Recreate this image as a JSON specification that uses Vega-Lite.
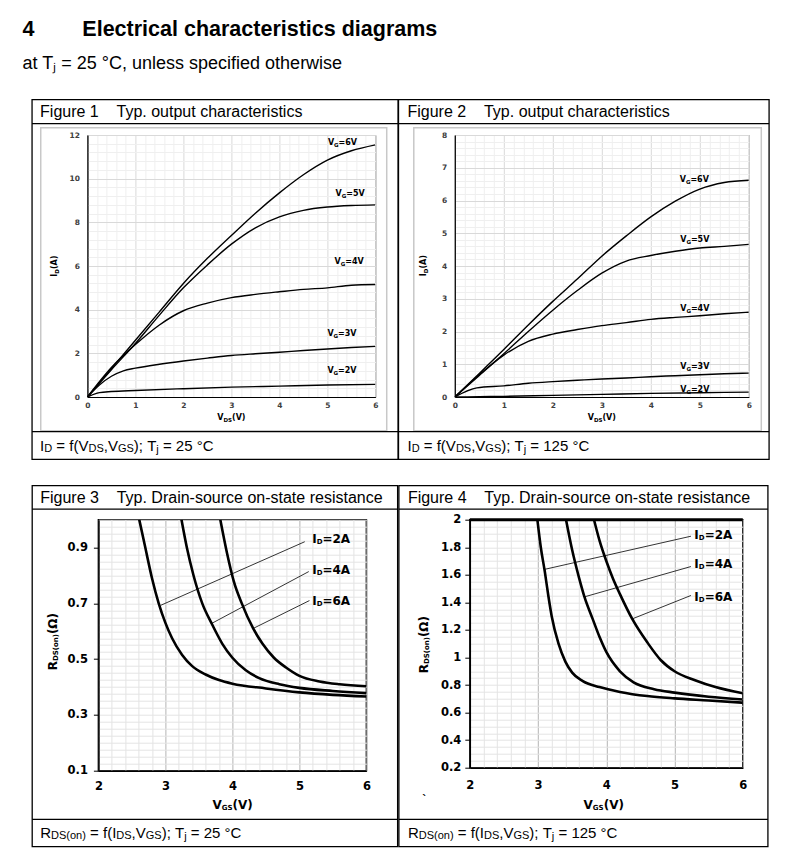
{
  "$schema": "https://vega.github.io/schema/vega-lite/v6.json",
  "background": "white",
  "padding": {"left": 22, "top": 19, "right": 5, "bottom": 5},
  "title": {
    "text": "4\u00a0\u00a0\u00a0\u00a0\u00a0\u00a0\u00a0\u00a0Electrical characteristics diagrams",
    "subtitle": "at T\u2c7c = 25 °C, unless specified otherwise",
    "anchor": "start", "dx": -8.2, "font": "Liberation Sans", "fontSize": 21.5, "fontWeight": "bold", "color": "black",
    "subtitleFont": "Liberation Sans", "subtitleFontSize": 18, "subtitleColor": "black", "subtitlePadding": 14, "offset": 26
  },
  "config": {"view": {"stroke": null}, "axis": {"grid": true, "labelOverlap": false, "labelFlush": false}},
  "datasets": {
    "f1": [
      {"x":0,"y":0,"c":"6V"},{"x":0.5,"y":1.3,"c":"6V"},{"x":1,"y":2.6,"c":"6V"},{"x":1.5,"y":3.9,"c":"6V"},{"x":2,"y":5.2,"c":"6V"},{"x":2.5,"y":6.35,"c":"6V"},{"x":3,"y":7.4,"c":"6V"},{"x":3.5,"y":8.42,"c":"6V"},{"x":4,"y":9.35,"c":"6V"},{"x":4.5,"y":10.18,"c":"6V"},{"x":5,"y":10.85,"c":"6V"},{"x":5.5,"y":11.28,"c":"6V"},{"x":6,"y":11.55,"c":"6V"},
      {"x":0,"y":0,"c":"5V"},{"x":0.5,"y":1.25,"c":"5V"},{"x":1,"y":2.45,"c":"5V"},{"x":1.5,"y":3.75,"c":"5V"},{"x":2,"y":5.0,"c":"5V"},{"x":2.5,"y":6.05,"c":"5V"},{"x":3,"y":7.0,"c":"5V"},{"x":3.5,"y":7.75,"c":"5V"},{"x":4,"y":8.25,"c":"5V"},{"x":4.5,"y":8.55,"c":"5V"},{"x":5,"y":8.7,"c":"5V"},{"x":5.5,"y":8.77,"c":"5V"},{"x":6,"y":8.8,"c":"5V"},
      {"x":0,"y":0,"c":"4V"},{"x":0.5,"y":1.35,"c":"4V"},{"x":1,"y":2.4,"c":"4V"},{"x":1.5,"y":3.3,"c":"4V"},{"x":2,"y":3.95,"c":"4V"},{"x":2.5,"y":4.3,"c":"4V"},{"x":3,"y":4.55,"c":"4V"},{"x":3.5,"y":4.7,"c":"4V"},{"x":4,"y":4.82,"c":"4V"},{"x":4.5,"y":4.93,"c":"4V"},{"x":5,"y":5.0,"c":"4V"},{"x":5.5,"y":5.12,"c":"4V"},{"x":6,"y":5.15,"c":"4V"},
      {"x":0,"y":0,"c":"3V"},{"x":0.25,"y":0.55,"c":"3V"},{"x":0.5,"y":0.95,"c":"3V"},{"x":0.75,"y":1.2,"c":"3V"},{"x":1,"y":1.32,"c":"3V"},{"x":1.5,"y":1.5,"c":"3V"},{"x":2,"y":1.65,"c":"3V"},{"x":2.5,"y":1.78,"c":"3V"},{"x":3,"y":1.9,"c":"3V"},{"x":3.5,"y":1.98,"c":"3V"},{"x":4,"y":2.05,"c":"3V"},{"x":4.5,"y":2.13,"c":"3V"},{"x":5,"y":2.2,"c":"3V"},{"x":5.5,"y":2.27,"c":"3V"},{"x":6,"y":2.32,"c":"3V"},
      {"x":0,"y":0,"c":"2V"},{"x":0.25,"y":0.2,"c":"2V"},{"x":0.5,"y":0.25,"c":"2V"},{"x":1,"y":0.3,"c":"2V"},{"x":2,"y":0.38,"c":"2V"},{"x":3,"y":0.45,"c":"2V"},{"x":4,"y":0.5,"c":"2V"},{"x":5,"y":0.55,"c":"2V"},{"x":6,"y":0.58,"c":"2V"}
    ],
    "f1lab": [{"x":5.01,"y":11.63,"t":"=6V"},{"x":5.17,"y":9.32,"t":"=5V"},{"x":5.15,"y":6.19,"t":"=4V"},{"x":5.0,"y":2.87,"t":"=3V"},{"x":5.0,"y":1.2,"t":"=2V"}],
    "f2": [
      {"x":0,"y":0,"c":"6V"},{"x":0.5,"y":0.72,"c":"6V"},{"x":1,"y":1.45,"c":"6V"},{"x":1.5,"y":2.2,"c":"6V"},{"x":2,"y":2.92,"c":"6V"},{"x":2.5,"y":3.6,"c":"6V"},{"x":3,"y":4.3,"c":"6V"},{"x":3.5,"y":4.92,"c":"6V"},{"x":4,"y":5.5,"c":"6V"},{"x":4.5,"y":5.98,"c":"6V"},{"x":5,"y":6.35,"c":"6V"},{"x":5.5,"y":6.55,"c":"6V"},{"x":6,"y":6.62,"c":"6V"},
      {"x":0,"y":0,"c":"5V"},{"x":0.5,"y":0.66,"c":"5V"},{"x":1,"y":1.32,"c":"5V"},{"x":1.5,"y":2.0,"c":"5V"},{"x":2,"y":2.65,"c":"5V"},{"x":2.5,"y":3.25,"c":"5V"},{"x":3,"y":3.78,"c":"5V"},{"x":3.5,"y":4.15,"c":"5V"},{"x":4,"y":4.32,"c":"5V"},{"x":4.5,"y":4.45,"c":"5V"},{"x":5,"y":4.55,"c":"5V"},{"x":5.5,"y":4.6,"c":"5V"},{"x":6,"y":4.66,"c":"5V"},
      {"x":0,"y":0,"c":"4V"},{"x":0.5,"y":0.68,"c":"4V"},{"x":1,"y":1.28,"c":"4V"},{"x":1.5,"y":1.7,"c":"4V"},{"x":2,"y":1.92,"c":"4V"},{"x":2.5,"y":2.06,"c":"4V"},{"x":3,"y":2.18,"c":"4V"},{"x":3.5,"y":2.27,"c":"4V"},{"x":4,"y":2.37,"c":"4V"},{"x":4.5,"y":2.43,"c":"4V"},{"x":5,"y":2.48,"c":"4V"},{"x":5.5,"y":2.54,"c":"4V"},{"x":6,"y":2.59,"c":"4V"},
      {"x":0,"y":0,"c":"3V"},{"x":0.45,"y":0.28,"c":"3V"},{"x":1,"y":0.34,"c":"3V"},{"x":1.5,"y":0.42,"c":"3V"},{"x":2,"y":0.47,"c":"3V"},{"x":2.5,"y":0.51,"c":"3V"},{"x":3,"y":0.55,"c":"3V"},{"x":3.5,"y":0.58,"c":"3V"},{"x":4,"y":0.62,"c":"3V"},{"x":4.5,"y":0.65,"c":"3V"},{"x":5,"y":0.68,"c":"3V"},{"x":5.5,"y":0.71,"c":"3V"},{"x":6,"y":0.73,"c":"3V"},
      {"x":0,"y":0,"c":"2V"},{"x":0.5,"y":0.01,"c":"2V"},{"x":1,"y":0.02,"c":"2V"},{"x":2,"y":0.05,"c":"2V"},{"x":3,"y":0.08,"c":"2V"},{"x":4,"y":0.11,"c":"2V"},{"x":5,"y":0.13,"c":"2V"},{"x":6,"y":0.15,"c":"2V"}
    ],
    "f2lab": [{"x":4.59,"y":6.63,"t":"=6V"},{"x":4.6,"y":4.8,"t":"=5V"},{"x":4.6,"y":2.69,"t":"=4V"},{"x":4.6,"y":0.91,"t":"=3V"},{"x":4.6,"y":0.22,"t":"=2V"}],
    "f3": [
      {"x":2.61,"y":1.0,"c":"2A"},{"x":2.7,"y":0.9,"c":"2A"},{"x":2.8,"y":0.79,"c":"2A"},{"x":2.9,"y":0.7,"c":"2A"},{"x":3.0,"y":0.63,"c":"2A"},{"x":3.1,"y":0.575,"c":"2A"},{"x":3.25,"y":0.515,"c":"2A"},{"x":3.4,"y":0.475,"c":"2A"},{"x":3.6,"y":0.445,"c":"2A"},{"x":3.8,"y":0.425,"c":"2A"},{"x":4.0,"y":0.412,"c":"2A"},{"x":4.5,"y":0.395,"c":"2A"},{"x":5.0,"y":0.381,"c":"2A"},{"x":5.5,"y":0.372,"c":"2A"},{"x":6.0,"y":0.366,"c":"2A"},
      {"x":3.24,"y":1.0,"c":"4A"},{"x":3.32,"y":0.9,"c":"4A"},{"x":3.42,"y":0.8,"c":"4A"},{"x":3.55,"y":0.7,"c":"4A"},{"x":3.69,"y":0.628,"c":"4A"},{"x":3.85,"y":0.555,"c":"4A"},{"x":4.0,"y":0.505,"c":"4A"},{"x":4.2,"y":0.46,"c":"4A"},{"x":4.4,"y":0.432,"c":"4A"},{"x":4.7,"y":0.41,"c":"4A"},{"x":5.0,"y":0.397,"c":"4A"},{"x":5.5,"y":0.386,"c":"4A"},{"x":6.0,"y":0.378,"c":"4A"},
      {"x":3.82,"y":1.0,"c":"6A"},{"x":3.92,"y":0.88,"c":"6A"},{"x":4.02,"y":0.78,"c":"6A"},{"x":4.14,"y":0.7,"c":"6A"},{"x":4.31,"y":0.61,"c":"6A"},{"x":4.45,"y":0.555,"c":"6A"},{"x":4.62,"y":0.505,"c":"6A"},{"x":4.8,"y":0.47,"c":"6A"},{"x":5.0,"y":0.44,"c":"6A"},{"x":5.3,"y":0.42,"c":"6A"},{"x":5.6,"y":0.41,"c":"6A"},{"x":6.0,"y":0.403,"c":"6A"}
    ],
    "f3ann": [
      {"x":2.93,"y":0.693,"x2":5.08,"y2":0.921,"lx":5.19,"ly":0.93,"t":"=2A"},
      {"x":3.69,"y":0.628,"x2":5.14,"y2":0.814,"lx":5.19,"ly":0.818,"t":"=4A"},
      {"x":4.31,"y":0.61,"x2":5.15,"y2":0.71,"lx":5.19,"ly":0.707,"t":"=6A"}
    ],
    "f4": [
      {"x":2.99,"y":2.0,"c":"2A"},{"x":3.04,"y":1.8,"c":"2A"},{"x":3.1,"y":1.62,"c":"2A"},{"x":3.15,"y":1.45,"c":"2A"},{"x":3.2,"y":1.3,"c":"2A"},{"x":3.3,"y":1.1,"c":"2A"},{"x":3.4,"y":0.97,"c":"2A"},{"x":3.5,"y":0.89,"c":"2A"},{"x":3.65,"y":0.83,"c":"2A"},{"x":3.9,"y":0.785,"c":"2A"},{"x":4.2,"y":0.75,"c":"2A"},{"x":4.6,"y":0.72,"c":"2A"},{"x":5.0,"y":0.703,"c":"2A"},{"x":5.5,"y":0.688,"c":"2A"},{"x":6.0,"y":0.672,"c":"2A"},
      {"x":3.41,"y":2.0,"c":"4A"},{"x":3.5,"y":1.78,"c":"4A"},{"x":3.6,"y":1.58,"c":"4A"},{"x":3.68,"y":1.44,"c":"4A"},{"x":3.8,"y":1.28,"c":"4A"},{"x":3.9,"y":1.15,"c":"4A"},{"x":4.0,"y":1.04,"c":"4A"},{"x":4.2,"y":0.9,"c":"4A"},{"x":4.4,"y":0.82,"c":"4A"},{"x":4.7,"y":0.77,"c":"4A"},{"x":5.0,"y":0.745,"c":"4A"},{"x":5.5,"y":0.715,"c":"4A"},{"x":6.0,"y":0.695,"c":"4A"},
      {"x":3.82,"y":2.0,"c":"6A"},{"x":3.9,"y":1.85,"c":"6A"},{"x":4.0,"y":1.7,"c":"6A"},{"x":4.1,"y":1.57,"c":"6A"},{"x":4.2,"y":1.46,"c":"6A"},{"x":4.38,"y":1.28,"c":"6A"},{"x":4.6,"y":1.11,"c":"6A"},{"x":4.8,"y":0.98,"c":"6A"},{"x":5.0,"y":0.9,"c":"6A"},{"x":5.3,"y":0.835,"c":"6A"},{"x":5.6,"y":0.785,"c":"6A"},{"x":6.0,"y":0.74,"c":"6A"}
    ],
    "f4ann": [
      {"x":3.1,"y":1.64,"x2":5.24,"y2":1.88,"lx":5.29,"ly":1.89,"t":"=2A"},
      {"x":3.68,"y":1.44,"x2":5.24,"y2":1.66,"lx":5.29,"ly":1.68,"t":"=4A"},
      {"x":4.38,"y":1.28,"x2":5.24,"y2":1.45,"lx":5.29,"ly":1.44,"t":"=6A"}
    ]
  },
  "spacing": 22.7,
  "vconcat": [
    {
      "spacing": -2.6,
      "hconcat": [
        {"width": 1, "height": 1, "data": {"values": [{}]}, "mark": {"type": "text", "text": ""}, "encoding": {}},
        {
          "width": 288, "height": 262,
          "view": {"stroke": "#7f7f7f"},
          "resolve": {"axis": {"x": "independent", "y": "independent"}},
          "layer": [
            {"data": {"name": "f1"}, "mark": {"type": "line", "color": "black", "strokeWidth": 1.4, "interpolate": "monotone", "clip": true},
             "encoding": {
               "x": {"field": "x", "type": "quantitative", "scale": {"domain": [0, 6], "nice": false, "zero": false},
                     "axis": {"title": null, "grid": true, "labelOverlap": false, "labelFlush": false, "values": [0,0.2,0.4,0.6,0.8,1,1.2,1.4,1.6,1.8,2,2.2,2.4,2.6,2.8,3,3.2,3.4,3.6,3.8,4,4.2,4.4,4.6,4.8,5,5.2,5.4,5.6,5.8,6],
                              "gridColor": {"condition": {"test": "abs(datum.value-round(datum.value))<0.01", "value": "#d9d9d9"}, "value": "#efefef"},
                              "labelExpr": "abs(datum.value-round(datum.value))<0.01 ? format(datum.value,'~g') : ''",
                              "ticks": false, "domainColor": "black", "domainWidth": 1.2, "labelFont": "DejaVu Sans", "labelFontWeight": "bold", "labelFontSize": 7.5, "labelColor": "#404040", "labelPadding": 4}},
               "y": {"field": "y", "type": "quantitative", "scale": {"domain": [0, 12], "nice": false, "zero": false},
                     "axis": {"title": null, "grid": true, "labelOverlap": false, "labelFlush": false, "values": [0,0.4,0.8,1.2,1.6,2,2.4,2.8,3.2,3.6,4,4.4,4.8,5.2,5.6,6,6.4,6.8,7.2,7.6,8,8.4,8.8,9.2,9.6,10,10.4,10.8,11.2,11.6,12],
                              "gridColor": {"condition": {"test": "abs(datum.value/2-round(datum.value/2))<0.01", "value": "#d9d9d9"}, "value": "#efefef"},
                              "labelExpr": "abs(datum.value/2-round(datum.value/2))<0.01 ? format(datum.value,'~g') : ''",
                              "ticks": false, "domainColor": "black", "domainWidth": 1.2, "labelFont": "DejaVu Sans", "labelFontWeight": "bold", "labelFontSize": 7.5, "labelColor": "#404040", "labelPadding": 8}},
               "detail": {"field": "c"}}},
            {"data": {"values": [{}]}, "mark": {"type": "rect", "fill": null, "stroke": "#c8c8c8", "strokeWidth": 1.5},
             "encoding": {"x": {"datum": -0.972, "type": "quantitative", "axis": null}, "x2": {"datum": 6.236}, "y": {"datum": 12.334, "type": "quantitative", "axis": null}, "y2": {"datum": -1.543}}},
            {"data": {"values": [{}]}, "mark": {"type": "rect", "fill": null, "stroke": "black", "strokeWidth": 1.3},
             "encoding": {"x": {"datum": -1.153, "type": "quantitative", "axis": null}, "x2": {"datum": 6.473}, "y": {"datum": 13.617, "type": "quantitative", "axis": null}, "y2": {"datum": -2.858}}},
            {"data": {"values": [{}]}, "mark": {"type": "rule", "color": "black", "strokeWidth": 1.3},
             "encoding": {"x": {"datum": -1.153, "type": "quantitative", "axis": null}, "x2": {"datum": 6.473}, "y": {"datum": 12.518, "type": "quantitative", "axis": null}}},
            {"data": {"values": [{}]}, "mark": {"type": "rule", "color": "black", "strokeWidth": 1.3},
             "encoding": {"x": {"datum": -1.153, "type": "quantitative", "axis": null}, "x2": {"datum": 6.473}, "y": {"datum": -1.589, "type": "quantitative", "axis": null}}},
            {"data": {"name": "f1lab"}, "mark": {"type": "text", "text": "V", "align": "left", "baseline": "middle", "font": "DejaVu Sans", "fontWeight": "bold", "fontSize": 8},
             "encoding": {"x": {"field": "x", "type": "quantitative", "axis": null}, "y": {"field": "y", "type": "quantitative", "axis": null}}},
            {"data": {"name": "f1lab"}, "mark": {"type": "text", "text": "G", "align": "left", "baseline": "middle", "font": "DejaVu Sans", "fontWeight": "bold", "fontSize": 5.5, "dx": 6.2, "dy": 2},
             "encoding": {"x": {"field": "x", "type": "quantitative", "axis": null}, "y": {"field": "y", "type": "quantitative", "axis": null}}},
            {"data": {"name": "f1lab"}, "mark": {"type": "text", "align": "left", "baseline": "middle", "font": "DejaVu Sans", "fontWeight": "bold", "fontSize": 8, "dx": 10.7},
             "encoding": {"x": {"field": "x", "type": "quantitative", "axis": null}, "y": {"field": "y", "type": "quantitative", "axis": null}, "text": {"field": "t"}}},
            {"data": {"values": [{}]}, "mark": {"type": "text", "text": "V", "align": "left", "baseline": "middle", "font": "DejaVu Sans", "fontWeight": "bold", "fontSize": 8, "dx": -14.1},
             "encoding": {"x": {"datum": 3.0, "type": "quantitative", "axis": null}, "y": {"datum": -0.948, "type": "quantitative", "axis": null}}},
            {"data": {"values": [{}]}, "mark": {"type": "text", "text": "DS", "align": "left", "baseline": "middle", "font": "DejaVu Sans", "fontWeight": "bold", "fontSize": 5.5, "dx": -7.9, "dy": 2},
             "encoding": {"x": {"datum": 3.0, "type": "quantitative", "axis": null}, "y": {"datum": -0.948, "type": "quantitative", "axis": null}}},
            {"data": {"values": [{}]}, "mark": {"type": "text", "text": "(V)", "align": "left", "baseline": "middle", "font": "DejaVu Sans", "fontWeight": "bold", "fontSize": 8, "dx": 0.6},
             "encoding": {"x": {"datum": 3.0, "type": "quantitative", "axis": null}, "y": {"datum": -0.948, "type": "quantitative", "axis": null}}},
            {"data": {"values": [{}]}, "mark": {"type": "text", "text": "I", "align": "left", "baseline": "middle", "angle": 270, "font": "DejaVu Sans", "fontWeight": "bold", "fontSize": 8, "dx": -10.5},
             "encoding": {"x": {"datum": -0.674, "type": "quantitative", "axis": null}, "y": {"datum": 5.99, "type": "quantitative", "axis": null}}},
            {"data": {"values": [{}]}, "mark": {"type": "text", "text": "D", "align": "left", "baseline": "middle", "angle": 270, "font": "DejaVu Sans", "fontWeight": "bold", "fontSize": 5.5, "dx": -7.5, "dy": 2},
             "encoding": {"x": {"datum": -0.674, "type": "quantitative", "axis": null}, "y": {"datum": 5.99, "type": "quantitative", "axis": null}}},
            {"data": {"values": [{}]}, "mark": {"type": "text", "text": "(A)", "align": "left", "baseline": "middle", "angle": 270, "font": "DejaVu Sans", "fontWeight": "bold", "fontSize": 8, "dx": -2.9},
             "encoding": {"x": {"datum": -0.674, "type": "quantitative", "axis": null}, "y": {"datum": 5.99, "type": "quantitative", "axis": null}}},
            {"data": {"values": [{}]}, "mark": {"type": "text", "text": "Figure 1\u00a0\u00a0\u00a0\u00a0Typ. output characteristics", "align": "left", "baseline": "middle", "font": "Liberation Sans", "fontSize": 16, "dx": 8},
             "encoding": {"x": {"datum": -1.153, "type": "quantitative", "axis": null}, "y": {"datum": 13.067, "type": "quantitative", "axis": null}}},
            {"data": {"values": [{}]}, "mark": {"type": "text", "text": "I", "align": "left", "baseline": "middle", "font": "Liberation Sans", "fontSize": 15, "dx": 8},
             "encoding": {"x": {"datum": -1.153, "type": "quantitative", "axis": null}, "y": {"datum": -2.231, "type": "quantitative", "axis": null}}},
            {"data": {"values": [{}]}, "mark": {"type": "text", "text": "D", "align": "left", "baseline": "middle", "font": "Liberation Sans", "fontSize": 11, "dx": 12.17, "dy": 3},
             "encoding": {"x": {"datum": -1.153, "type": "quantitative", "axis": null}, "y": {"datum": -2.231, "type": "quantitative", "axis": null}}},
            {"data": {"values": [{}]}, "mark": {"type": "text", "text": "=\u00a0f(V", "align": "left", "baseline": "middle", "font": "Liberation Sans", "fontSize": 15, "dx": 24.28},
             "encoding": {"x": {"datum": -1.153, "type": "quantitative", "axis": null}, "y": {"datum": -2.231, "type": "quantitative", "axis": null}}},
            {"data": {"values": [{}]}, "mark": {"type": "text", "text": "DS", "align": "left", "baseline": "middle", "font": "Liberation Sans", "fontSize": 11, "dx": 56.38, "dy": 3},
             "encoding": {"x": {"datum": -1.153, "type": "quantitative", "axis": null}, "y": {"datum": -2.231, "type": "quantitative", "axis": null}}},
            {"data": {"values": [{}]}, "mark": {"type": "text", "text": ",V", "align": "left", "baseline": "middle", "font": "Liberation Sans", "fontSize": 15, "dx": 71.66},
             "encoding": {"x": {"datum": -1.153, "type": "quantitative", "axis": null}, "y": {"datum": -2.231, "type": "quantitative", "axis": null}}},
            {"data": {"values": [{}]}, "mark": {"type": "text", "text": "GS", "align": "left", "baseline": "middle", "font": "Liberation Sans", "fontSize": 11, "dx": 85.84, "dy": 3},
             "encoding": {"x": {"datum": -1.153, "type": "quantitative", "axis": null}, "y": {"datum": -2.231, "type": "quantitative", "axis": null}}},
            {"data": {"values": [{}]}, "mark": {"type": "text", "text": ");\u00a0T", "align": "left", "baseline": "middle", "font": "Liberation Sans", "fontSize": 15, "dx": 101.74},
             "encoding": {"x": {"datum": -1.153, "type": "quantitative", "axis": null}, "y": {"datum": -2.231, "type": "quantitative", "axis": null}}},
            {"data": {"values": [{}]}, "mark": {"type": "text", "text": "j", "align": "left", "baseline": "middle", "font": "Liberation Sans", "fontSize": 11, "dx": 124.24, "dy": 4},
             "encoding": {"x": {"datum": -1.153, "type": "quantitative", "axis": null}, "y": {"datum": -2.231, "type": "quantitative", "axis": null}}},
            {"data": {"values": [{}]}, "mark": {"type": "text", "text": "=\u00a025 °C", "align": "left", "baseline": "middle", "font": "Liberation Sans", "fontSize": 15, "dx": 130.85},
             "encoding": {"x": {"datum": -1.153, "type": "quantitative", "axis": null}, "y": {"datum": -2.231, "type": "quantitative", "axis": null}}}
          ]
        },
        {
          "width": 294, "height": 262,
          "view": {"stroke": "#7f7f7f"},
          "resolve": {"axis": {"x": "independent", "y": "independent"}},
          "layer": [
            {"data": {"name": "f2"}, "mark": {"type": "line", "color": "black", "strokeWidth": 1.4, "interpolate": "monotone", "clip": true},
             "encoding": {
               "x": {"field": "x", "type": "quantitative", "scale": {"domain": [0, 6], "nice": false, "zero": false},
                     "axis": {"title": null, "grid": true, "labelOverlap": false, "labelFlush": false, "values": [0,0.2,0.4,0.6,0.8,1,1.2,1.4,1.6,1.8,2,2.2,2.4,2.6,2.8,3,3.2,3.4,3.6,3.8,4,4.2,4.4,4.6,4.8,5,5.2,5.4,5.6,5.8,6],
                              "gridColor": {"condition": {"test": "abs(datum.value-round(datum.value))<0.01", "value": "#d9d9d9"}, "value": "#efefef"},
                              "labelExpr": "abs(datum.value-round(datum.value))<0.01 ? format(datum.value,'~g') : ''",
                              "ticks": false, "domainColor": "black", "domainWidth": 1.2, "labelFont": "DejaVu Sans", "labelFontWeight": "bold", "labelFontSize": 7.5, "labelColor": "#404040", "labelPadding": 4}},
               "y": {"field": "y", "type": "quantitative", "scale": {"domain": [0, 8], "nice": false, "zero": false},
                     "axis": {"title": null, "grid": true, "labelOverlap": false, "labelFlush": false, "values": [0,0.2,0.4,0.6,0.8,1,1.2,1.4,1.6,1.8,2,2.2,2.4,2.6,2.8,3,3.2,3.4,3.6,3.8,4,4.2,4.4,4.6,4.8,5,5.2,5.4,5.6,5.8,6,6.2,6.4,6.6,6.8,7,7.2,7.4,7.6,7.8,8],
                              "gridColor": {"condition": {"test": "abs(datum.value-round(datum.value))<0.01", "value": "#d9d9d9"}, "value": "#efefef"},
                              "labelExpr": "abs(datum.value-round(datum.value))<0.01 ? format(datum.value,'~g') : ''",
                              "ticks": false, "domainColor": "black", "domainWidth": 1.2, "labelFont": "DejaVu Sans", "labelFontWeight": "bold", "labelFontSize": 7.5, "labelColor": "#404040", "labelPadding": 8}},
               "detail": {"field": "c"}}},
            {"data": {"values": [{}]}, "mark": {"type": "rect", "fill": null, "stroke": "#c8c8c8", "strokeWidth": 1.5},
             "encoding": {"x": {"datum": -0.837, "type": "quantitative", "axis": null}, "x2": {"datum": 6.255}, "y": {"datum": 8.223, "type": "quantitative", "axis": null}, "y2": {"datum": -1.029}}},
            {"data": {"values": [{}]}, "mark": {"type": "rect", "fill": null, "stroke": "black", "strokeWidth": 1.3},
             "encoding": {"x": {"datum": -1.149, "type": "quantitative", "axis": null}, "x2": {"datum": 6.414}, "y": {"datum": 9.078, "type": "quantitative", "axis": null}, "y2": {"datum": -1.905}}},
            {"data": {"values": [{}]}, "mark": {"type": "rule", "color": "black", "strokeWidth": 1.3},
             "encoding": {"x": {"datum": -1.149, "type": "quantitative", "axis": null}, "x2": {"datum": 6.414}, "y": {"datum": 8.345, "type": "quantitative", "axis": null}}},
            {"data": {"values": [{}]}, "mark": {"type": "rule", "color": "black", "strokeWidth": 1.3},
             "encoding": {"x": {"datum": -1.149, "type": "quantitative", "axis": null}, "x2": {"datum": 6.414}, "y": {"datum": -1.06, "type": "quantitative", "axis": null}}},
            {"data": {"name": "f2lab"}, "mark": {"type": "text", "text": "V", "align": "left", "baseline": "middle", "font": "DejaVu Sans", "fontWeight": "bold", "fontSize": 8},
             "encoding": {"x": {"field": "x", "type": "quantitative", "axis": null}, "y": {"field": "y", "type": "quantitative", "axis": null}}},
            {"data": {"name": "f2lab"}, "mark": {"type": "text", "text": "G", "align": "left", "baseline": "middle", "font": "DejaVu Sans", "fontWeight": "bold", "fontSize": 5.5, "dx": 6.2, "dy": 2},
             "encoding": {"x": {"field": "x", "type": "quantitative", "axis": null}, "y": {"field": "y", "type": "quantitative", "axis": null}}},
            {"data": {"name": "f2lab"}, "mark": {"type": "text", "align": "left", "baseline": "middle", "font": "DejaVu Sans", "fontWeight": "bold", "fontSize": 8, "dx": 10.7},
             "encoding": {"x": {"field": "x", "type": "quantitative", "axis": null}, "y": {"field": "y", "type": "quantitative", "axis": null}, "text": {"field": "t"}}},
            {"data": {"values": [{}]}, "mark": {"type": "text", "text": "V", "align": "left", "baseline": "middle", "font": "DejaVu Sans", "fontWeight": "bold", "fontSize": 8, "dx": -14.1},
             "encoding": {"x": {"datum": 3.0, "type": "quantitative", "axis": null}, "y": {"datum": -0.632, "type": "quantitative", "axis": null}}},
            {"data": {"values": [{}]}, "mark": {"type": "text", "text": "DS", "align": "left", "baseline": "middle", "font": "DejaVu Sans", "fontWeight": "bold", "fontSize": 5.5, "dx": -7.9, "dy": 2},
             "encoding": {"x": {"datum": 3.0, "type": "quantitative", "axis": null}, "y": {"datum": -0.632, "type": "quantitative", "axis": null}}},
            {"data": {"values": [{}]}, "mark": {"type": "text", "text": "(V)", "align": "left", "baseline": "middle", "font": "DejaVu Sans", "fontWeight": "bold", "fontSize": 8, "dx": 0.6},
             "encoding": {"x": {"datum": 3.0, "type": "quantitative", "axis": null}, "y": {"datum": -0.632, "type": "quantitative", "axis": null}}},
            {"data": {"values": [{}]}, "mark": {"type": "text", "text": "I", "align": "left", "baseline": "middle", "angle": 270, "font": "DejaVu Sans", "fontWeight": "bold", "fontSize": 8, "dx": -10.5},
             "encoding": {"x": {"datum": -0.633, "type": "quantitative", "axis": null}, "y": {"datum": 4.01, "type": "quantitative", "axis": null}}},
            {"data": {"values": [{}]}, "mark": {"type": "text", "text": "D", "align": "left", "baseline": "middle", "angle": 270, "font": "DejaVu Sans", "fontWeight": "bold", "fontSize": 5.5, "dx": -7.5, "dy": 2},
             "encoding": {"x": {"datum": -0.633, "type": "quantitative", "axis": null}, "y": {"datum": 4.01, "type": "quantitative", "axis": null}}},
            {"data": {"values": [{}]}, "mark": {"type": "text", "text": "(A)", "align": "left", "baseline": "middle", "angle": 270, "font": "DejaVu Sans", "fontWeight": "bold", "fontSize": 8, "dx": -2.9},
             "encoding": {"x": {"datum": -0.633, "type": "quantitative", "axis": null}, "y": {"datum": 4.01, "type": "quantitative", "axis": null}}},
            {"data": {"values": [{}]}, "mark": {"type": "text", "text": "Figure 2\u00a0\u00a0\u00a0\u00a0Typ. output characteristics", "align": "left", "baseline": "middle", "font": "Liberation Sans", "fontSize": 16, "dx": 9},
             "encoding": {"x": {"datum": -1.149, "type": "quantitative", "axis": null}, "y": {"datum": 8.711, "type": "quantitative", "axis": null}}},
            {"data": {"values": [{}]}, "mark": {"type": "text", "text": "I", "align": "left", "baseline": "middle", "font": "Liberation Sans", "fontSize": 15, "dx": 9},
             "encoding": {"x": {"datum": -1.149, "type": "quantitative", "axis": null}, "y": {"datum": -1.487, "type": "quantitative", "axis": null}}},
            {"data": {"values": [{}]}, "mark": {"type": "text", "text": "D", "align": "left", "baseline": "middle", "font": "Liberation Sans", "fontSize": 11, "dx": 13.17, "dy": 3},
             "encoding": {"x": {"datum": -1.149, "type": "quantitative", "axis": null}, "y": {"datum": -1.487, "type": "quantitative", "axis": null}}},
            {"data": {"values": [{}]}, "mark": {"type": "text", "text": "=\u00a0f(V", "align": "left", "baseline": "middle", "font": "Liberation Sans", "fontSize": 15, "dx": 25.28},
             "encoding": {"x": {"datum": -1.149, "type": "quantitative", "axis": null}, "y": {"datum": -1.487, "type": "quantitative", "axis": null}}},
            {"data": {"values": [{}]}, "mark": {"type": "text", "text": "DS", "align": "left", "baseline": "middle", "font": "Liberation Sans", "fontSize": 11, "dx": 57.38, "dy": 3},
             "encoding": {"x": {"datum": -1.149, "type": "quantitative", "axis": null}, "y": {"datum": -1.487, "type": "quantitative", "axis": null}}},
            {"data": {"values": [{}]}, "mark": {"type": "text", "text": ",V", "align": "left", "baseline": "middle", "font": "Liberation Sans", "fontSize": 15, "dx": 72.66},
             "encoding": {"x": {"datum": -1.149, "type": "quantitative", "axis": null}, "y": {"datum": -1.487, "type": "quantitative", "axis": null}}},
            {"data": {"values": [{}]}, "mark": {"type": "text", "text": "GS", "align": "left", "baseline": "middle", "font": "Liberation Sans", "fontSize": 11, "dx": 86.84, "dy": 3},
             "encoding": {"x": {"datum": -1.149, "type": "quantitative", "axis": null}, "y": {"datum": -1.487, "type": "quantitative", "axis": null}}},
            {"data": {"values": [{}]}, "mark": {"type": "text", "text": ");\u00a0T", "align": "left", "baseline": "middle", "font": "Liberation Sans", "fontSize": 15, "dx": 102.74},
             "encoding": {"x": {"datum": -1.149, "type": "quantitative", "axis": null}, "y": {"datum": -1.487, "type": "quantitative", "axis": null}}},
            {"data": {"values": [{}]}, "mark": {"type": "text", "text": "j", "align": "left", "baseline": "middle", "font": "Liberation Sans", "fontSize": 11, "dx": 125.24, "dy": 4},
             "encoding": {"x": {"datum": -1.149, "type": "quantitative", "axis": null}, "y": {"datum": -1.487, "type": "quantitative", "axis": null}}},
            {"data": {"values": [{}]}, "mark": {"type": "text", "text": "=\u00a0125 °C", "align": "left", "baseline": "middle", "font": "Liberation Sans", "fontSize": 15, "dx": 131.85},
             "encoding": {"x": {"datum": -1.149, "type": "quantitative", "axis": null}, "y": {"datum": -1.487, "type": "quantitative", "axis": null}}}
          ]
        }
      ]
    },
    {
      "spacing": -2.6,
      "hconcat": [
        {"width": 1, "height": 1, "data": {"values": [{}]}, "mark": {"type": "text", "text": ""}, "encoding": {}},
        {
          "width": 268, "height": 251,
          "view": {"stroke": "black", "strokeWidth": 1.5},
          "resolve": {"axis": {"x": "independent", "y": "independent"}},
          "layer": [
            {"data": {"name": "f3"}, "mark": {"type": "line", "color": "black", "strokeWidth": 2.6, "interpolate": "monotone", "clip": true},
             "encoding": {
               "x": {"field": "x", "type": "quantitative", "scale": {"domain": [2, 6], "nice": false, "zero": false},
                     "axis": {"title": null, "grid": true, "labelOverlap": false, "labelFlush": false, "values": [2,2.2,2.4,2.6,2.8,3,3.2,3.4,3.6,3.8,4,4.2,4.4,4.6,4.8,5,5.2,5.4,5.6,5.8,6],
                              "gridColor": {"condition": {"test": "abs(datum.value-round(datum.value))<0.01", "value": "#b4b4b4"}, "value": "#e4e4e4"},
                              "labelExpr": "abs(datum.value-round(datum.value))<0.01 ? format(datum.value,'~g') : ''",
                              "ticks": false, "domainColor": "black", "domainWidth": 1.5, "labelFont": "DejaVu Sans", "labelFontWeight": "bold", "labelFontSize": 11.5, "labelColor": "black", "labelPadding": 10}},
               "y": {"field": "y", "type": "quantitative", "scale": {"domain": [0.1, 1.0], "nice": false, "zero": false},
                     "axis": {"title": null, "grid": true, "labelOverlap": false, "labelFlush": false, "values": [0.1,0.125,0.15,0.175,0.2,0.225,0.25,0.275,0.3,0.325,0.35,0.375,0.4,0.425,0.45,0.475,0.5,0.525,0.55,0.575,0.6,0.625,0.65,0.675,0.7,0.725,0.75,0.775,0.8,0.825,0.85,0.875,0.9,0.925,0.95,0.975,1.0],
                              "gridColor": "#e4e4e4",
                              "labelExpr": "abs((datum.value-0.1)/0.2-round((datum.value-0.1)/0.2))<0.01 ? format(datum.value,'~g') : ''",
                              "tickOpacity": {"condition": {"test": "abs((datum.value-0.1)/0.2-round((datum.value-0.1)/0.2))<0.01", "value": 1}, "value": 0},
                              "tickSize": 5, "tickColor": "black", "domainColor": "black", "domainWidth": 1.5, "labelFont": "DejaVu Sans", "labelFontWeight": "bold", "labelFontSize": 11.5, "labelColor": "black", "labelPadding": 6}},
               "detail": {"field": "c"}}},
            {"data": {"values": [{}]}, "mark": {"type": "rect", "fill": null, "stroke": "black", "strokeWidth": 1.3},
             "encoding": {"x": {"datum": 1.012, "type": "quantitative", "axis": null}, "x2": {"datum": 6.466}, "y": {"datum": 1.1219, "type": "quantitative", "axis": null}, "y2": {"datum": -0.1725}}},
            {"data": {"values": [{}]}, "mark": {"type": "rule", "color": "black", "strokeWidth": 1.3},
             "encoding": {"x": {"datum": 1.012, "type": "quantitative", "axis": null}, "x2": {"datum": 6.466}, "y": {"datum": 1.0376, "type": "quantitative", "axis": null}}},
            {"data": {"values": [{}]}, "mark": {"type": "rule", "color": "black", "strokeWidth": 1.3},
             "encoding": {"x": {"datum": 1.012, "type": "quantitative", "axis": null}, "x2": {"datum": 6.466}, "y": {"datum": -0.0746, "type": "quantitative", "axis": null}}},
            {"data": {"name": "f3ann"}, "mark": {"type": "rule", "color": "black", "strokeWidth": 0.8},
             "encoding": {"x": {"field": "x", "type": "quantitative", "axis": null}, "y": {"field": "y", "type": "quantitative", "axis": null}, "x2": {"field": "x2"}, "y2": {"field": "y2"}}},
            {"data": {"name": "f3ann"}, "mark": {"type": "text", "text": "I", "align": "left", "baseline": "middle", "font": "DejaVu Sans", "fontWeight": "bold", "fontSize": 12},
             "encoding": {"x": {"field": "lx", "type": "quantitative", "axis": null}, "y": {"field": "ly", "type": "quantitative", "axis": null}}},
            {"data": {"name": "f3ann"}, "mark": {"type": "text", "text": "D", "align": "left", "baseline": "middle", "font": "DejaVu Sans", "fontWeight": "bold", "fontSize": 7, "dx": 4.5, "dy": 3},
             "encoding": {"x": {"field": "lx", "type": "quantitative", "axis": null}, "y": {"field": "ly", "type": "quantitative", "axis": null}}},
            {"data": {"name": "f3ann"}, "mark": {"type": "text", "align": "left", "baseline": "middle", "font": "DejaVu Sans", "fontWeight": "bold", "fontSize": 12, "dx": 10.3},
             "encoding": {"x": {"field": "lx", "type": "quantitative", "axis": null}, "y": {"field": "ly", "type": "quantitative", "axis": null}, "text": {"field": "t"}}},
            {"data": {"values": [{}]}, "mark": {"type": "text", "text": "V", "align": "left", "baseline": "middle", "font": "DejaVu Sans", "fontWeight": "bold", "fontSize": 12, "dx": -20},
             "encoding": {"x": {"datum": 4.0, "type": "quantitative", "axis": null}, "y": {"datum": -0.0219, "type": "quantitative", "axis": null}}},
            {"data": {"values": [{}]}, "mark": {"type": "text", "text": "GS", "align": "left", "baseline": "middle", "font": "DejaVu Sans", "fontWeight": "bold", "fontSize": 7, "dx": -10.7, "dy": 3},
             "encoding": {"x": {"datum": 4.0, "type": "quantitative", "axis": null}, "y": {"datum": -0.0219, "type": "quantitative", "axis": null}}},
            {"data": {"values": [{}]}, "mark": {"type": "text", "text": "(V)", "align": "left", "baseline": "middle", "font": "DejaVu Sans", "fontWeight": "bold", "fontSize": 12, "dx": 0.1},
             "encoding": {"x": {"datum": 4.0, "type": "quantitative", "axis": null}, "y": {"datum": -0.0219, "type": "quantitative", "axis": null}}},
            {"data": {"values": [{}]}, "mark": {"type": "text", "text": "R", "align": "left", "baseline": "middle", "angle": 270, "font": "DejaVu Sans", "fontWeight": "bold", "fontSize": 12, "dx": -28.6},
             "encoding": {"x": {"datum": 1.325, "type": "quantitative", "axis": null}, "y": {"datum": 0.5625, "type": "quantitative", "axis": null}}},
            {"data": {"values": [{}]}, "mark": {"type": "text", "text": "DS(on)", "align": "left", "baseline": "middle", "angle": 270, "font": "DejaVu Sans", "fontWeight": "bold", "fontSize": 7, "dx": -19.4, "dy": 3},
             "encoding": {"x": {"datum": 1.325, "type": "quantitative", "axis": null}, "y": {"datum": 0.5625, "type": "quantitative", "axis": null}}},
            {"data": {"values": [{}]}, "mark": {"type": "text", "text": "(Ω)", "align": "left", "baseline": "middle", "angle": 270, "font": "DejaVu Sans", "fontWeight": "bold", "fontSize": 12, "dx": 7.6},
             "encoding": {"x": {"datum": 1.325, "type": "quantitative", "axis": null}, "y": {"datum": 0.5625, "type": "quantitative", "axis": null}}},
            {"data": {"values": [{}]}, "mark": {"type": "text", "text": "Figure 3\u00a0\u00a0\u00a0\u00a0Typ. Drain-source on-state resistance", "align": "left", "baseline": "middle", "font": "Liberation Sans", "fontSize": 16, "dx": 8},
             "encoding": {"x": {"datum": 1.012, "type": "quantitative", "axis": null}, "y": {"datum": 1.0789, "type": "quantitative", "axis": null}}},
            {"data": {"values": [{}]}, "mark": {"type": "text", "text": "R", "align": "left", "baseline": "middle", "font": "Liberation Sans", "fontSize": 15, "dx": 8},
             "encoding": {"x": {"datum": 1.012, "type": "quantitative", "axis": null}, "y": {"datum": -0.1223, "type": "quantitative", "axis": null}}},
            {"data": {"values": [{}]}, "mark": {"type": "text", "text": "DS(on)", "align": "left", "baseline": "middle", "font": "Liberation Sans", "fontSize": 11, "dx": 18.83, "dy": 3},
             "encoding": {"x": {"datum": 1.012, "type": "quantitative", "axis": null}, "y": {"datum": -0.1223, "type": "quantitative", "axis": null}}},
            {"data": {"values": [{}]}, "mark": {"type": "text", "text": "=\u00a0f(I", "align": "left", "baseline": "middle", "font": "Liberation Sans", "fontSize": 15, "dx": 57.84},
             "encoding": {"x": {"datum": 1.012, "type": "quantitative", "axis": null}, "y": {"datum": -0.1223, "type": "quantitative", "axis": null}}},
            {"data": {"values": [{}]}, "mark": {"type": "text", "text": "DS", "align": "left", "baseline": "middle", "font": "Liberation Sans", "fontSize": 11, "dx": 84.11, "dy": 3},
             "encoding": {"x": {"datum": 1.012, "type": "quantitative", "axis": null}, "y": {"datum": -0.1223, "type": "quantitative", "axis": null}}},
            {"data": {"values": [{}]}, "mark": {"type": "text", "text": ",V", "align": "left", "baseline": "middle", "font": "Liberation Sans", "fontSize": 15, "dx": 99.39},
             "encoding": {"x": {"datum": 1.012, "type": "quantitative", "axis": null}, "y": {"datum": -0.1223, "type": "quantitative", "axis": null}}},
            {"data": {"values": [{}]}, "mark": {"type": "text", "text": "GS", "align": "left", "baseline": "middle", "font": "Liberation Sans", "fontSize": 11, "dx": 113.57, "dy": 3},
             "encoding": {"x": {"datum": 1.012, "type": "quantitative", "axis": null}, "y": {"datum": -0.1223, "type": "quantitative", "axis": null}}},
            {"data": {"values": [{}]}, "mark": {"type": "text", "text": ");\u00a0T", "align": "left", "baseline": "middle", "font": "Liberation Sans", "fontSize": 15, "dx": 129.47},
             "encoding": {"x": {"datum": 1.012, "type": "quantitative", "axis": null}, "y": {"datum": -0.1223, "type": "quantitative", "axis": null}}},
            {"data": {"values": [{}]}, "mark": {"type": "text", "text": "j", "align": "left", "baseline": "middle", "font": "Liberation Sans", "fontSize": 11, "dx": 151.97, "dy": 4},
             "encoding": {"x": {"datum": 1.012, "type": "quantitative", "axis": null}, "y": {"datum": -0.1223, "type": "quantitative", "axis": null}}},
            {"data": {"values": [{}]}, "mark": {"type": "text", "text": "=\u00a025 °C", "align": "left", "baseline": "middle", "font": "Liberation Sans", "fontSize": 15, "dx": 158.58},
             "encoding": {"x": {"datum": 1.012, "type": "quantitative", "axis": null}, "y": {"datum": -0.1223, "type": "quantitative", "axis": null}}}
          ]
        },
        {
          "width": 273, "height": 248,
          "view": {"stroke": "black", "strokeWidth": 1.5},
          "resolve": {"axis": {"x": "independent", "y": "independent"}},
          "layer": [
            {"data": {"name": "f4"}, "mark": {"type": "line", "color": "black", "strokeWidth": 2.6, "interpolate": "monotone", "clip": true},
             "encoding": {
               "x": {"field": "x", "type": "quantitative", "scale": {"domain": [2, 6], "nice": false, "zero": false},
                     "axis": {"title": null, "grid": true, "labelOverlap": false, "labelFlush": false, "values": [2,2.2,2.4,2.6,2.8,3,3.2,3.4,3.6,3.8,4,4.2,4.4,4.6,4.8,5,5.2,5.4,5.6,5.8,6],
                              "gridColor": {"condition": {"test": "abs(datum.value-round(datum.value))<0.01", "value": "#b4b4b4"}, "value": "#e4e4e4"},
                              "labelExpr": "abs(datum.value-round(datum.value))<0.01 ? format(datum.value,'~g') : ''",
                              "ticks": false, "domainColor": "black", "domainWidth": 1.5, "labelFont": "DejaVu Sans", "labelFontWeight": "bold", "labelFontSize": 11.5, "labelColor": "black", "labelPadding": 12}},
               "y": {"field": "y", "type": "quantitative", "scale": {"domain": [0.2, 2.0], "nice": false, "zero": false},
                     "axis": {"title": null, "grid": true, "labelOverlap": false, "labelFlush": false, "values": [0.2,0.25,0.3,0.35,0.4,0.45,0.5,0.55,0.6,0.65,0.7,0.75,0.8,0.85,0.9,0.95,1,1.05,1.1,1.15,1.2,1.25,1.3,1.35,1.4,1.45,1.5,1.55,1.6,1.65,1.7,1.75,1.8,1.85,1.9,1.95,2],
                              "gridColor": "#e4e4e4",
                              "labelExpr": "abs(datum.value/0.2-round(datum.value/0.2))<0.01 ? format(datum.value,'~g') : ''",
                              "tickOpacity": {"condition": {"test": "abs(datum.value/0.2-round(datum.value/0.2))<0.01", "value": 1}, "value": 0},
                              "tickSize": 5, "tickColor": "black", "domainColor": "black", "domainWidth": 1.5, "labelFont": "DejaVu Sans", "labelFontWeight": "bold", "labelFontSize": 11.5, "labelColor": "black", "labelPadding": 4}},
               "detail": {"field": "c"}}},
            {"data": {"values": [{}]}, "mark": {"type": "rect", "fill": null, "stroke": "black", "strokeWidth": 1.3},
             "encoding": {"x": {"datum": 0.961, "type": "quantitative", "axis": null}, "x2": {"datum": 6.368}, "y": {"datum": 2.2467, "type": "quantitative", "axis": null}, "y2": {"datum": -0.3733}}},
            {"data": {"values": [{}]}, "mark": {"type": "rule", "color": "black", "strokeWidth": 1.3},
             "encoding": {"x": {"datum": 0.961, "type": "quantitative", "axis": null}, "x2": {"datum": 6.368}, "y": {"datum": 2.0762, "type": "quantitative", "axis": null}}},
            {"data": {"values": [{}]}, "mark": {"type": "rule", "color": "black", "strokeWidth": 1.3},
             "encoding": {"x": {"datum": 0.961, "type": "quantitative", "axis": null}, "x2": {"datum": 6.368}, "y": {"datum": -0.1752, "type": "quantitative", "axis": null}}},
            {"data": {"values": [{}]}, "mark": {"type": "rule", "color": "black", "strokeWidth": 3},
             "encoding": {"x": {"datum": 2, "type": "quantitative", "axis": null}, "x2": {"datum": 6}, "y": {"datum": 2, "type": "quantitative", "axis": null}}},
            {"data": {"name": "f4ann"}, "mark": {"type": "rule", "color": "black", "strokeWidth": 0.8},
             "encoding": {"x": {"field": "x", "type": "quantitative", "axis": null}, "y": {"field": "y", "type": "quantitative", "axis": null}, "x2": {"field": "x2"}, "y2": {"field": "y2"}}},
            {"data": {"name": "f4ann"}, "mark": {"type": "text", "text": "I", "align": "left", "baseline": "middle", "font": "DejaVu Sans", "fontWeight": "bold", "fontSize": 12},
             "encoding": {"x": {"field": "lx", "type": "quantitative", "axis": null}, "y": {"field": "ly", "type": "quantitative", "axis": null}}},
            {"data": {"name": "f4ann"}, "mark": {"type": "text", "text": "D", "align": "left", "baseline": "middle", "font": "DejaVu Sans", "fontWeight": "bold", "fontSize": 7, "dx": 4.5, "dy": 3},
             "encoding": {"x": {"field": "lx", "type": "quantitative", "axis": null}, "y": {"field": "ly", "type": "quantitative", "axis": null}}},
            {"data": {"name": "f4ann"}, "mark": {"type": "text", "align": "left", "baseline": "middle", "font": "DejaVu Sans", "fontWeight": "bold", "fontSize": 12, "dx": 10.3},
             "encoding": {"x": {"field": "lx", "type": "quantitative", "axis": null}, "y": {"field": "ly", "type": "quantitative", "axis": null}, "text": {"field": "t"}}},
            {"data": {"values": [{}]}, "mark": {"type": "text", "text": "V", "align": "left", "baseline": "middle", "font": "DejaVu Sans", "fontWeight": "bold", "fontSize": 12, "dx": -20},
             "encoding": {"x": {"datum": 3.96, "type": "quantitative", "axis": null}, "y": {"datum": -0.0685, "type": "quantitative", "axis": null}}},
            {"data": {"values": [{}]}, "mark": {"type": "text", "text": "GS", "align": "left", "baseline": "middle", "font": "DejaVu Sans", "fontWeight": "bold", "fontSize": 7, "dx": -10.7, "dy": 3},
             "encoding": {"x": {"datum": 3.96, "type": "quantitative", "axis": null}, "y": {"datum": -0.0685, "type": "quantitative", "axis": null}}},
            {"data": {"values": [{}]}, "mark": {"type": "text", "text": "(V)", "align": "left", "baseline": "middle", "font": "DejaVu Sans", "fontWeight": "bold", "fontSize": 12, "dx": 0.1},
             "encoding": {"x": {"datum": 3.96, "type": "quantitative", "axis": null}, "y": {"datum": -0.0685, "type": "quantitative", "axis": null}}},
            {"data": {"values": [{}]}, "mark": {"type": "text", "text": "`", "align": "center", "baseline": "middle", "font": "DejaVu Sans", "fontWeight": "bold", "fontSize": 11},
             "encoding": {"x": {"datum": 1.34, "type": "quantitative", "axis": null}, "y": {"datum": -0.032, "type": "quantitative", "axis": null}}},
            {"data": {"values": [{}]}, "mark": {"type": "text", "text": "R", "align": "left", "baseline": "middle", "angle": 270, "font": "DejaVu Sans", "fontWeight": "bold", "fontSize": 12, "dx": -28.6},
             "encoding": {"x": {"datum": 1.327, "type": "quantitative", "axis": null}, "y": {"datum": 1.0926, "type": "quantitative", "axis": null}}},
            {"data": {"values": [{}]}, "mark": {"type": "text", "text": "DS(on)", "align": "left", "baseline": "middle", "angle": 270, "font": "DejaVu Sans", "fontWeight": "bold", "fontSize": 7, "dx": -19.4, "dy": 3},
             "encoding": {"x": {"datum": 1.327, "type": "quantitative", "axis": null}, "y": {"datum": 1.0926, "type": "quantitative", "axis": null}}},
            {"data": {"values": [{}]}, "mark": {"type": "text", "text": "(Ω)", "align": "left", "baseline": "middle", "angle": 270, "font": "DejaVu Sans", "fontWeight": "bold", "fontSize": 12, "dx": 7.6},
             "encoding": {"x": {"datum": 1.327, "type": "quantitative", "axis": null}, "y": {"datum": 1.0926, "type": "quantitative", "axis": null}}},
            {"data": {"values": [{}]}, "mark": {"type": "text", "text": "Figure 4\u00a0\u00a0\u00a0\u00a0Typ. Drain-source on-state resistance", "align": "left", "baseline": "middle", "font": "Liberation Sans", "fontSize": 16, "dx": 9},
             "encoding": {"x": {"datum": 0.961, "type": "quantitative", "axis": null}, "y": {"datum": 2.1597, "type": "quantitative", "axis": null}}},
            {"data": {"values": [{}]}, "mark": {"type": "text", "text": "R", "align": "left", "baseline": "middle", "font": "Liberation Sans", "fontSize": 15, "dx": 9},
             "encoding": {"x": {"datum": 0.961, "type": "quantitative", "axis": null}, "y": {"datum": -0.2717, "type": "quantitative", "axis": null}}},
            {"data": {"values": [{}]}, "mark": {"type": "text", "text": "DS(on)", "align": "left", "baseline": "middle", "font": "Liberation Sans", "fontSize": 11, "dx": 19.83, "dy": 3},
             "encoding": {"x": {"datum": 0.961, "type": "quantitative", "axis": null}, "y": {"datum": -0.2717, "type": "quantitative", "axis": null}}},
            {"data": {"values": [{}]}, "mark": {"type": "text", "text": "=\u00a0f(I", "align": "left", "baseline": "middle", "font": "Liberation Sans", "fontSize": 15, "dx": 58.84},
             "encoding": {"x": {"datum": 0.961, "type": "quantitative", "axis": null}, "y": {"datum": -0.2717, "type": "quantitative", "axis": null}}},
            {"data": {"values": [{}]}, "mark": {"type": "text", "text": "DS", "align": "left", "baseline": "middle", "font": "Liberation Sans", "fontSize": 11, "dx": 85.11, "dy": 3},
             "encoding": {"x": {"datum": 0.961, "type": "quantitative", "axis": null}, "y": {"datum": -0.2717, "type": "quantitative", "axis": null}}},
            {"data": {"values": [{}]}, "mark": {"type": "text", "text": ",V", "align": "left", "baseline": "middle", "font": "Liberation Sans", "fontSize": 15, "dx": 100.39},
             "encoding": {"x": {"datum": 0.961, "type": "quantitative", "axis": null}, "y": {"datum": -0.2717, "type": "quantitative", "axis": null}}},
            {"data": {"values": [{}]}, "mark": {"type": "text", "text": "GS", "align": "left", "baseline": "middle", "font": "Liberation Sans", "fontSize": 11, "dx": 114.57, "dy": 3},
             "encoding": {"x": {"datum": 0.961, "type": "quantitative", "axis": null}, "y": {"datum": -0.2717, "type": "quantitative", "axis": null}}},
            {"data": {"values": [{}]}, "mark": {"type": "text", "text": ");\u00a0T", "align": "left", "baseline": "middle", "font": "Liberation Sans", "fontSize": 15, "dx": 130.47},
             "encoding": {"x": {"datum": 0.961, "type": "quantitative", "axis": null}, "y": {"datum": -0.2717, "type": "quantitative", "axis": null}}},
            {"data": {"values": [{}]}, "mark": {"type": "text", "text": "j", "align": "left", "baseline": "middle", "font": "Liberation Sans", "fontSize": 11, "dx": 152.97, "dy": 4},
             "encoding": {"x": {"datum": 0.961, "type": "quantitative", "axis": null}, "y": {"datum": -0.2717, "type": "quantitative", "axis": null}}},
            {"data": {"values": [{}]}, "mark": {"type": "text", "text": "=\u00a0125 °C", "align": "left", "baseline": "middle", "font": "Liberation Sans", "fontSize": 15, "dx": 159.58},
             "encoding": {"x": {"datum": 0.961, "type": "quantitative", "axis": null}, "y": {"datum": -0.2717, "type": "quantitative", "axis": null}}}
          ]
        }
      ]
    }
  ]
}
